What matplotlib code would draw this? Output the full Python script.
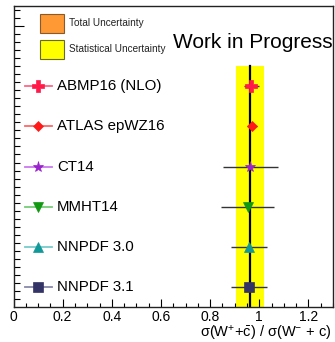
import matplotlib
matplotlib.use("Agg")
import matplotlib.pyplot as plt
from matplotlib.patches import Rectangle
from matplotlib.ticker import MultipleLocator, FixedLocator

plt.rcParams['font.family'] = ['Liberation Sans', 'DejaVu Sans']
plt.rcParams['mathtext.fontset'] = 'custom'
plt.rcParams['mathtext.rm'] = 'Liberation Sans'
plt.rcParams['mathtext.it'] = 'Liberation Sans'
plt.rcParams['mathtext.bf'] = 'Liberation Sans:bold'

# data
pdfs = ["ABMP16 (NLO)", "ATLAS epWZ16", "CT14", "MMHT14", "NNPDF 3.0", "NNPDF 3.1"]
centers = [0.968, 0.971, 0.964, 0.953, 0.957, 0.959]
errors = [0.029, 0.020, 0.112, 0.108, 0.073, 0.072]
markers = ["P", "D", "*", "v", "^", "s"]
marker_colors = ["#ff1a4a", "#ff1a1a", "#9922cc", "#119911", "#119999", "#333366"]
line_colors = ["#ff6685", "#ff6666", "#cc77ee", "#77cc77", "#77cccc", "#8888aa"]
marker_sizes = [8, 5, 8, 7, 7, 7]
measurement = 0.961
stat_lo, stat_hi = 0.904, 1.018

fig = plt.figure(figsize=(3.35, 3.42), dpi=100)
ax = fig.add_axes([13.5/335, 1-307/342, (333-13.5)/335, (307-6)/342])
ax.set_xlim(0, 1.3)
ax.set_ylim(0, 7.5)

# statistical band and measurement
ax.add_patch(Rectangle((stat_lo, 0), stat_hi - stat_lo, 6.0, facecolor="#ffff00", edgecolor="none", zorder=1))
ax.plot([measurement, measurement], [0, 6.0], color="black", lw=1.6, zorder=2)

n = len(pdfs)
for i, (name, c, e, m, mc, lc, ms) in enumerate(zip(pdfs, centers, errors, markers, marker_colors, line_colors, marker_sizes)):
    y = n - 1 - i + 0.5
    ax.errorbar([c], [y], xerr=[e], fmt='none', ecolor="#333333", elinewidth=1.0, capsize=0, zorder=3)
    ax.plot([c], [y], marker=m, color=mc, markersize=ms, markeredgewidth=0.5, markeredgecolor=mc, zorder=4)
    # legend entry
    ax.plot([0.047, 0.156], [y, y], color=lc, lw=1.3, zorder=3, clip_on=False)
    ax.plot([0.1], [y], marker=m, color=mc, markersize=ms, markeredgewidth=0.5, markeredgecolor=mc, zorder=4)
    ax.text(0.177, y, name, fontsize=10.8, va='center', ha='left', zorder=5)

# uncertainty legend boxes
ax.add_patch(Rectangle((0.108, 6.83), 0.098, 0.47, facecolor="#ff9933", edgecolor="#8a5a2a", lw=0.8, zorder=3))
ax.add_patch(Rectangle((0.108, 6.18), 0.098, 0.47, facecolor="#ffff00", edgecolor="#6a6a2a", lw=0.8, zorder=3))
ax.text(0.226, 7.08, "Total Uncertainty", fontsize=7.2, va='center', ha='left', color="#222222")
ax.text(0.226, 6.43, "Statistical Uncertainty", fontsize=7.2, va='center', ha='left', color="#222222")

ax.text(0.648, 6.6, "Work in Progress", fontsize=15, va='center', ha='left', clip_on=False)

# axes styling
ax.set_xticks([0, 0.2, 0.4, 0.6, 0.8, 1.0, 1.2])
ax.set_xticklabels(["0", "0.2", "0.4", "0.6", "0.8", "1", "1.2"])
ax.xaxis.set_minor_locator(MultipleLocator(0.05))
ax.yaxis.set_major_locator(FixedLocator([7.0]))
ax.yaxis.set_minor_locator(FixedLocator([0.2 * k for k in range(1, 38)]))
ax.tick_params(axis='x', which='major', direction='in', length=6, width=0.8, labelsize=10, pad=2)
ax.tick_params(axis='x', which='minor', direction='in', length=3, width=0.8)
ax.tick_params(axis='y', which='major', direction='in', length=7, width=0.8, labelleft=False)
ax.tick_params(axis='y', which='minor', direction='in', length=4, width=0.8)
for s in ax.spines.values():
    s.set_linewidth(1.0)
    s.set_color("#222222")

fig.text(331/335, 1-337.5/342, r"$\sigma$(W$^{+}$+$\bar{\mathrm{c}}$) / $\sigma$(W$^{-}$ + c)",
         fontsize=10.5, ha='right', va='baseline')

fig.savefig("out.png", dpi=100)
